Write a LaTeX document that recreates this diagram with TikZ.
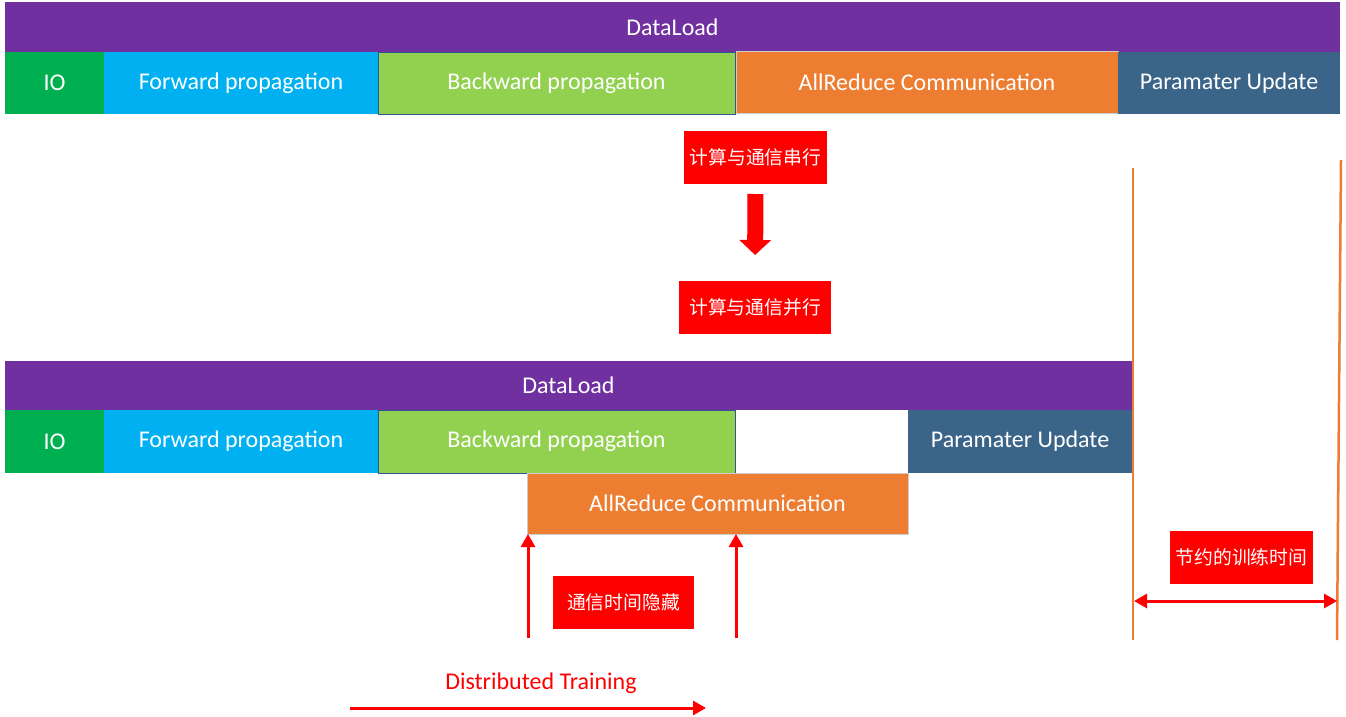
\documentclass[tikz,border=0pt]{standalone}
\usepackage{fontspec}
\setmainfont{Carlito}
\newfontfamily\cjk{Noto Sans CJK SC}
\usetikzlibrary{arrows.meta}
\definecolor{cpurple}{HTML}{7030A0}
\definecolor{cgreen}{HTML}{00B050}
\definecolor{cblue}{HTML}{00B0F0}
\definecolor{clgreen}{HTML}{92D050}
\definecolor{corange}{HTML}{ED7D31}
\definecolor{cslate}{HTML}{3B6489}
\definecolor{cred}{HTML}{FF0000}
\definecolor{cborder}{HTML}{2F5597}
\tikzset{
  bar/.style={anchor=north west, inner sep=0pt, outer sep=0pt, text=white,
     font=\fontsize{24}{28}\selectfont},
  redbox/.style={anchor=north west, inner sep=0pt, outer sep=0pt, fill=cred, text=white,
     font=\cjk\fontsize{18.8}{22}\selectfont},
  redarrow/.style={draw=cred, line width=3pt, -{Triangle[width=14pt,length=13pt]}},
  orangeline/.style={draw=corange, line width=2.5pt},
}
\begin{document}
\begin{tikzpicture}[x=1pt,y=-1pt]
\useasboundingbox (0,0) rectangle (1346,716);
% ---- top row ----
\node[bar, fill=cpurple, minimum width=1335, minimum height=50] (dl1) at (5,2) {DataLoad};
\node[bar, fill=cgreen, minimum width=99, minimum height=62] (io1) at (5,52) {IO};
\node[bar, fill=cblue, minimum width=274, minimum height=62] (fw1) at (104,52) {Forward propagation};
\node[bar, fill=clgreen, draw=cborder, line width=0.8pt, minimum width=357, minimum height=62] (bw1) at (378,52) {Backward propagation};
\node[bar, fill=corange, draw=black!20, line width=0.8pt, minimum width=382, minimum height=62] (ar1) at (736,51) {AllReduce Communication};
\node[bar, fill=cslate, minimum width=222, minimum height=62] (pu1) at (1118,52) {Paramater Update};
% ---- middle ----
\node[redbox, minimum width=143, minimum height=53] (serial) at (684,131) {计算与通信串行};
\node[redbox, minimum width=152, minimum height=53] (parallel) at (679,281) {计算与通信并行};
\draw[draw=cred, line width=16pt, -{Triangle[width=31pt,length=15pt]}, shorten <=10pt, shorten >=26pt]
  (serial.south) -- (parallel.north);
% ---- bottom row ----
\node[bar, fill=cpurple, minimum width=1127, minimum height=49] (dl2) at (5,361) {DataLoad};
\node[bar, fill=cgreen, minimum width=99, minimum height=63] (io2) at (5,410) {IO};
\node[bar, fill=cblue, minimum width=274, minimum height=63] (fw2) at (104,410) {Forward propagation};
\node[bar, fill=clgreen, draw=cborder, line width=0.8pt, minimum width=357, minimum height=63] (bw2) at (378,410) {Backward propagation};
\node[bar, fill=cslate, minimum width=224, minimum height=63] (pu2) at (908,410) {Paramater Update};
\node[bar, fill=corange, draw=black!20, line width=0.8pt, minimum width=381, minimum height=61] (ar2) at (527,473) {AllReduce Communication};
% hidden-time arrows
\coordinate (h1) at (528,638);
\coordinate (h2) at (736,638);
\draw[redarrow] (h1) -- (h1 |- ar2.south);
\draw[redarrow] (h2) -- (h2 |- ar2.south);
\node[redbox, minimum width=141, minimum height=53] (hidden) at (553,576) {通信时间隐藏};
% distributed training
\node[text=cred, font=\fontsize{24}{28}\selectfont, inner sep=0pt] (dt) at (541,683) {Distributed Training};
\coordinate (dta) at (350,708);
\coordinate (dtb) at (706,708);
\draw[redarrow] (dta) -- (dtb);
% saved time
\coordinate (v1t) at (1133,168);
\coordinate (v1b) at (1133,640);
\coordinate (v2t) at (1341,160);
\coordinate (v2b) at (1337,640);
\draw[orangeline] (v1t) -- (v1b);
\draw[orangeline] (v2t) -- (v2b);
\coordinate (sa) at (1134,601);
\coordinate (sb) at (1337,601);
\draw[draw=cred, line width=3pt, {Triangle[width=14pt,length=13pt]}-{Triangle[width=14pt,length=13pt]}] (sa) -- (sb);
\node[redbox, minimum width=143, minimum height=53] (saved) at (1170,531) {节约的训练时间};
\end{tikzpicture}
\end{document}
